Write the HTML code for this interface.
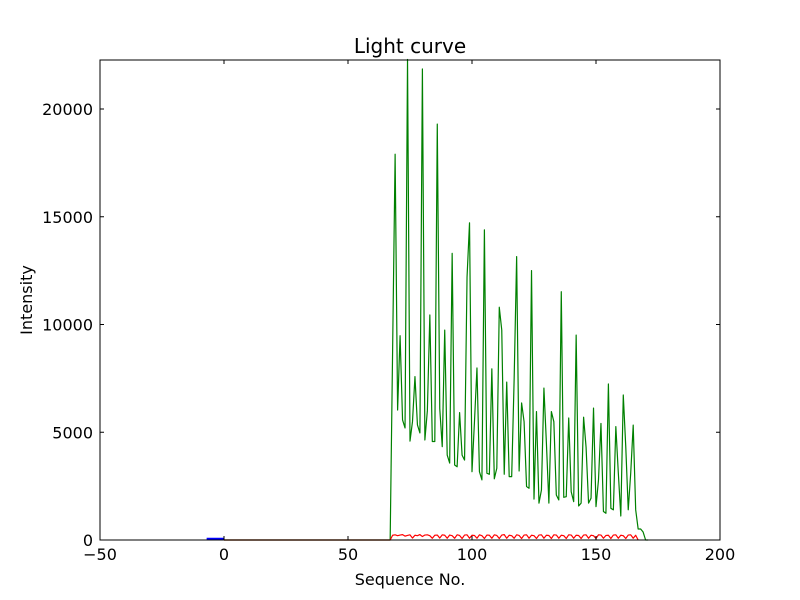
<!DOCTYPE html>
<html><head><meta charset="utf-8"><style>
body{margin:0;background:#fff;}
svg{display:block;font-family:"DejaVu Sans","Liberation Sans",sans-serif;}
</style></head><body>
<svg id="chart" width="800" height="600" viewBox="0 0 800 600">
<rect x="0" y="0" width="800" height="600" fill="#fff"/>
<g id="series"></g>
<rect x="100" y="60" width="620" height="480" fill="none" stroke="#000" stroke-width="1"/>
<g id="axes"></g>
<text x="410" y="53" text-anchor="middle" font-size="20">Light curve</text>
<text x="410" y="585" text-anchor="middle" font-size="16">Sequence No.</text>
<text x="32" y="300" text-anchor="middle" font-size="16" transform="rotate(-90 32 300)">Intensity</text>
</svg>
<script>
const xTicks = [-50, 0, 50, 100, 150, 200];
const yTicks = [0, 5000, 10000, 15000, 20000];
const blueX = [-7, -6, -5, -4, -3, -2, -1, 0];
const blueY = [60, 60, 60, 60, 60, 60, 60, 60];
const greenLeadX = [0, 66];
const greenLeadY = [0, 0];
const greenStart = 67;
const greenY = [0, 8900, 17900, 6030, 9480, 5570, 5200, 22300, 4590, 5490, 7580, 5340, 4970, 21860, 4640, 6000, 10440, 4570, 4570, 19300, 6100, 4330, 9740, 3940, 3570, 13300, 3480, 3400, 5910, 3940, 3710, 12200, 14720, 3170, 5500, 7980, 3170, 2790, 14390, 3100, 3050, 7940, 2840, 3330, 10800, 9740, 3050, 7330, 2940, 2940, 7500, 13150, 3200, 6360, 5490, 2480, 2400, 12500, 1900, 5960, 1710, 2320, 7050, 4500, 1710, 5960, 5490, 2090, 1860, 11520, 1980, 2010, 5660, 2240, 1780, 9510, 1580, 1710, 5700, 4300, 1710, 1940, 6120, 1550, 2780, 5410, 1320, 1240, 7240, 1470, 1400, 5260, 3110, 1110, 6730, 4330, 1400, 3110, 5330, 1400, 510, 510, 370, 0, 0];
const redLeadX = [0, 67];
const redLeadY = [0, 0];
const redStart = 68;
const redY = [220, 240, 200, 230, 250, 180, 210, 240, 90, 220, 200, 250, 160, 230, 240, 200, 80, 220, 230, 90, 240, 220, 80, 230, 200, 80, 240, 210, 70, 230, 240, 80, 220, 210, 80, 240, 200, 70, 230, 220, 80, 240, 210, 70, 230, 250, 80, 220, 200, 80, 240, 210, 70, 230, 240, 80, 220, 200, 70, 230, 240, 80, 220, 210, 70, 240, 230, 80, 220, 200, 70, 240, 230, 80, 220, 210, 70, 230, 240, 80, 220, 200, 70, 240, 230, 80, 210, 220, 70, 230, 240, 80, 220, 200, 70, 230, 240, 80, 220, 0];

const X0 = 100, X1 = 720, Y0 = 540, Y1 = 60;
const xMin = -50, xMax = 200, yMin = 0, yMax = 22274;
function sx(v){ return X0 + (v - xMin) / (xMax - xMin) * (X1 - X0); }
function sy(v){ return Y0 - (v - yMin) / (yMax - yMin) * (Y0 - Y1); }
const NS = "http://www.w3.org/2000/svg";
const series = document.getElementById('series');
const axes = document.getElementById('axes');

function pathFrom(xs, ys){
  return xs.map((x,i)=>(i?'L':'M')+sx(x).toFixed(2)+' '+sy(ys[i]).toFixed(2)).join(' ');
}
function addLine(xs, ys, color, w, name){
  const p = document.createElementNS(NS,'path');
  p.setAttribute('d', pathFrom(xs, ys));
  p.setAttribute('fill','none');
  p.setAttribute('stroke', color);
  p.setAttribute('stroke-width', w);
  p.setAttribute('stroke-linejoin','round');
  
  
  series.appendChild(p);
}
const gX = greenLeadX.concat(greenY.map((_,i)=>greenStart+i));
const gY = greenLeadY.concat(greenY);
const rX = redLeadX.concat(redY.map((_,i)=>redStart+i));
const rY = redLeadY.concat(redY);
addLine(blueX, blueY, '#0000ff', 2, 'blue-series-line');
addLine(gX, gY, '#008000', 1.2, 'green-series-line');
addLine(rX, rY, '#ff0000', 1.2, 'red-series-line');

xTicks.forEach(v=>{
  const x = sx(v);
  [[Y0, Y0-4],[Y1, Y1+4]].forEach(([a,b])=>{
    const l = document.createElementNS(NS,'line');
    l.setAttribute('x1',x); l.setAttribute('x2',x); l.setAttribute('y1',a); l.setAttribute('y2',b);
    l.setAttribute('stroke','#000');
    
    
    axes.appendChild(l);
  });
  const t = document.createElementNS(NS,'text');
  t.setAttribute('x', x); t.setAttribute('y', Y0+20);
  t.setAttribute('text-anchor','middle'); t.setAttribute('font-size','16');
  t.textContent = v < 0 ? '\u2212' + Math.abs(v) : String(v);
  
  
  axes.appendChild(t);
});
yTicks.forEach(v=>{
  const y = sy(v);
  [[X0, X0+4],[X1, X1-4]].forEach(([a,b])=>{
    const l = document.createElementNS(NS,'line');
    l.setAttribute('x1',a); l.setAttribute('x2',b); l.setAttribute('y1',y); l.setAttribute('y2',y);
    l.setAttribute('stroke','#000');
    
    
    axes.appendChild(l);
  });
  const t = document.createElementNS(NS,'text');
  t.setAttribute('x', X0-7); t.setAttribute('y', y+6);
  t.setAttribute('text-anchor','end'); t.setAttribute('font-size','16');
  t.textContent = String(v);
  
  
  axes.appendChild(t);
});
</script>
</body></html>
